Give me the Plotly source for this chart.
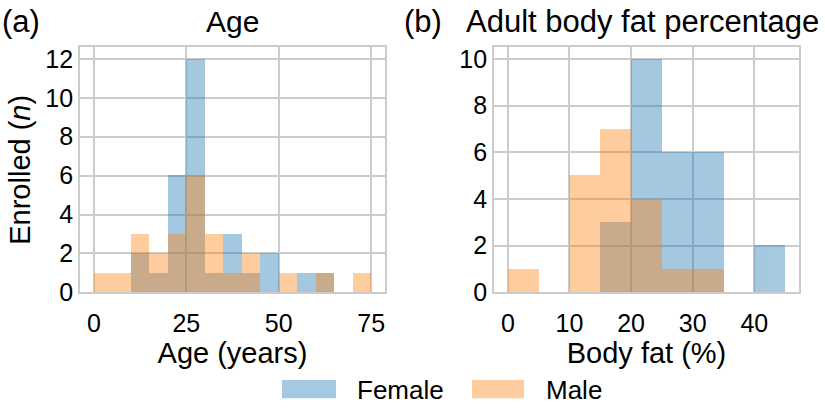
import plotly.graph_objects as go

# ---- data ----
age_bin_edges = [0, 5, 10, 15, 20, 25, 30, 35, 40, 45, 50, 55, 60, 65, 70]
age_female = [0, 0, 2, 1, 6, 12, 1, 3, 1, 2, 0, 1, 1, 0, 0]
age_male = [1, 1, 3, 2, 3, 6, 3, 1, 2, 0, 1, 0, 1, 0, 1]

fat_bin_edges = [0, 5, 10, 15, 20, 25, 30, 35, 40]
fat_female = [0, 0, 0, 3, 10, 6, 6, 0, 2]
fat_male = [1, 0, 5, 7, 4, 1, 1, 0, 0]

bin_width = 5
age_ticks = [0, 25, 50, 75]
fat_ticks = [0, 10, 20, 30, 40]
age_yticks = [0, 2, 4, 6, 8, 10, 12]
fat_yticks = [0, 2, 4, 6, 8, 10]
series_names = ["Female", "Male"]

BLUE = "#1f77b4"
ORANGE = "#ff7f0e"
ALPHA = 0.4
FONT = "Liberation Sans, Arial, sans-serif"
GRID = "#cccccc"

fig = go.Figure()

def add_pair(xs, fem, mal, xa, ya):
    fig.add_trace(go.Bar(x=xs, y=fem, width=bin_width, offset=0, name=series_names[0],
                         marker=dict(color=BLUE, line=dict(width=0)), opacity=ALPHA,
                         xaxis=xa, yaxis=ya, showlegend=False))
    fig.add_trace(go.Bar(x=xs, y=mal, width=bin_width, offset=0, name=series_names[1],
                         marker=dict(color=ORANGE, line=dict(width=0)), opacity=ALPHA,
                         xaxis=xa, yaxis=ya, showlegend=False))

add_pair(age_bin_edges, age_female, age_male, "x", "y")
add_pair(fat_bin_edges, fat_female, fat_male, "x2", "y2")

W, H = 825, 416
ydom = [1 - 302 / H, 1 - 47 / H]
axis_common = dict(showgrid=True, gridcolor=GRID, gridwidth=1.8, showline=True,
                   linecolor=GRID, linewidth=1.8, mirror=True, ticks="", zeroline=False,
                   tickfont=dict(size=25, color="black", family=FONT))

def ann(text, x, y, xanchor, size):
    return dict(text=text, x=x / W, y=1 - y / H, xref="paper", yref="paper",
                xanchor=xanchor, yanchor="middle", showarrow=False,
                font=dict(size=size, color="black", family=FONT))

annotations = [
    ann("(a)", 0, 20, "left", 31),
    ann("Age", 232.5, 20, "center", 30),
    ann("(b)", 402, 20, "left", 31),
    ann("Adult body fat percentage", 821, 20, "right", 31),
    ann(series_names[0], 355, 403, "left", 26),
    ann(series_names[1], 544, 403, "left", 26),
]

# legend patches (decoration, paper coordinates)
def patch(x0, x1, color):
    return dict(type="rect", xref="paper", yref="paper", x0=x0 / W, x1=x1 / W,
                y0=1 - 412 / H, y1=1 - 393 / H, fillcolor=color, opacity=ALPHA,
                line=dict(width=0), layer="above")

shapes = [patch(282, 336, BLUE), patch(472, 524, ORANGE)]

xaxis_extra = dict(ticklabelstandoff=8)

fig.update_layout(
    width=W, height=H, margin=dict(l=0, r=0, t=0, b=0),
    paper_bgcolor="white", plot_bgcolor="white",
    barmode="overlay", bargap=0, showlegend=False,
    font=dict(family=FONT, color="black"),
    xaxis=dict(domain=[80 / W, 385 / W], range=[-3.75, 78.75], tickvals=age_ticks,
               title=dict(text="Age (years)", font=dict(size=29), standoff=3),
               **xaxis_extra, **axis_common),
    yaxis=dict(domain=ydom, range=[0, 12.6], tickvals=age_yticks,
               title=dict(text="Enrolled (<i>n</i>)", font=dict(size=29), standoff=6), **axis_common),
    xaxis2=dict(domain=[494 / W, 799 / W], range=[-2.25, 47.25], tickvals=fat_ticks,
                title=dict(text="Body fat (%)", font=dict(size=29), standoff=3), anchor="y2",
                **xaxis_extra, **axis_common),
    yaxis2=dict(domain=ydom, range=[0, 10.5], tickvals=fat_yticks, anchor="x2", **axis_common),
    annotations=annotations,
    shapes=shapes,
)

fig.write_html("out.html", config={"displayModeBar": False},
               post_script="document.body.style.margin='0';")
